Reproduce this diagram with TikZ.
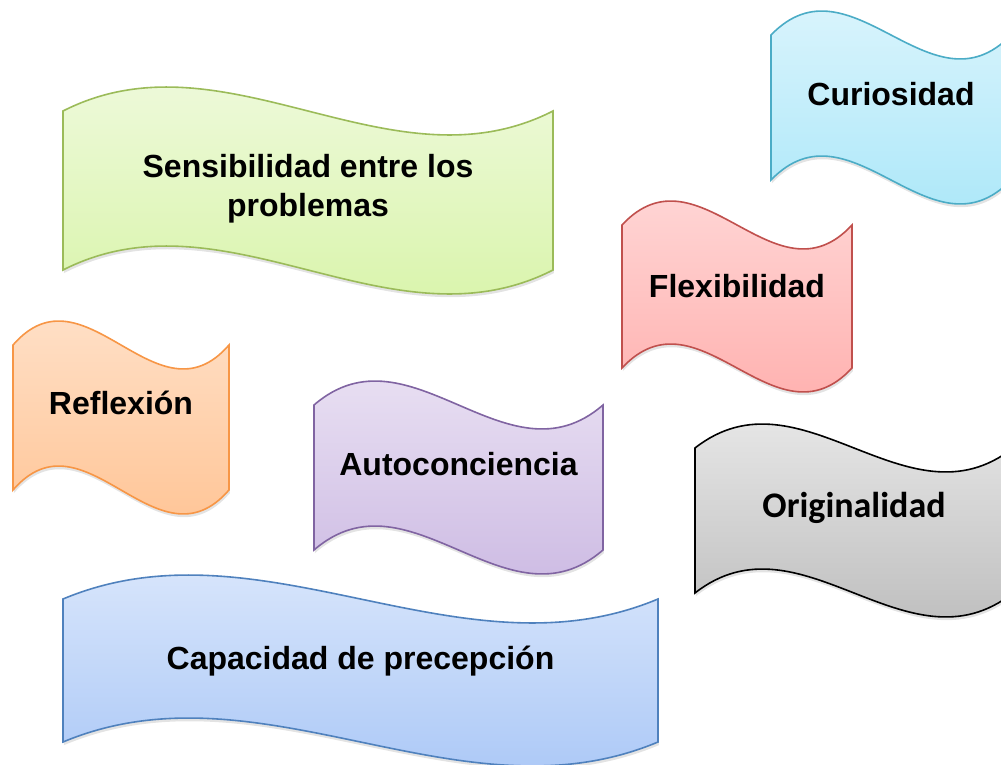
\documentclass[tikz,border=0pt]{standalone}
\usepackage{fontspec}
\setmainfont{Liberation Sans}
\newfontfamily\calibrifont{Carlito}
\usetikzlibrary{shadows}

\definecolor{grnline}{HTML}{9BBB59}
\definecolor{grntop}{HTML}{F2FBE4}
\definecolor{grnbot}{HTML}{D5F3A2}
\definecolor{cynline}{HTML}{4BACC6}
\definecolor{cyntop}{HTML}{E4F7FD}
\definecolor{cynbot}{HTML}{A3E5F8}
\definecolor{redline}{HTML}{C0504D}
\definecolor{redtop}{HTML}{FFDEDE}
\definecolor{redbot}{HTML}{FFA9A7}
\definecolor{orgline}{HTML}{F79646}
\definecolor{orgtop}{HTML}{FFE6D2}
\definecolor{orgbot}{HTML}{FFBF8C}
\definecolor{purline}{HTML}{8064A2}
\definecolor{purtop}{HTML}{EFE8F6}
\definecolor{purbot}{HTML}{C7B3E0}
\definecolor{gryline}{HTML}{000000}
\definecolor{grytop}{HTML}{F0F0F0}
\definecolor{grybot}{HTML}{B5B5B5}
\definecolor{bluline}{HTML}{4F81BD}
\definecolor{blutop}{HTML}{E2ECFC}
\definecolor{blubot}{HTML}{A2C2F6}

\begin{document}
\begin{tikzpicture}[x=0.75pt,y=-0.75pt,
	wave/.style={line width=1.2pt, drop shadow={opacity=0.22, shadow xshift=0.6pt, shadow yshift=-2.4pt}},
	word/.style={font=\bfseries\fontsize{24}{29}\selectfont, align=center, anchor=base, text=black}]
			\useasboundingbox (0,0) rectangle (1001,765);
			\clip (0,0) rectangle (1001,765);

			% green banner
			\draw [wave, draw=grnline, top color=grntop, bottom color=grnbot]
				(63,111) .. controls (226,28) and (390,194) .. (553,111) -- (553,270)
				.. controls (390,353) and (226,187) .. (63,270) -- cycle;

			% cyan banner (runs off the right side)
			\draw [wave, draw=cynline, top color=cyntop, bottom color=cynbot]
				(771,35) .. controls (851,-48) and (931,118) .. (1011,35) -- (1011,180)
				.. controls (931,263) and (851,97) .. (771,180) -- cycle;

			% red banner
			\draw [wave, draw=redline, top color=redtop, bottom color=redbot]
				(622,225) .. controls (699,142) and (775,308) .. (852,225) -- (852,368)
				.. controls (775,451) and (699,285) .. (622,368) -- cycle;

			% orange banner
			\draw [wave, draw=orgline, top color=orgtop, bottom color=orgbot]
				(13,345) .. controls (85,262) and (157,428) .. (229,345) -- (229,490)
				.. controls (157,573) and (85,407) .. (13,490) -- cycle;

			% purple banner
			\draw [wave, draw=purline, top color=purtop, bottom color=purbot]
				(314,405) .. controls (410,322) and (507,488) .. (603,405) -- (603,550)
				.. controls (507,633) and (410,467) .. (314,550) -- cycle;

			% gray banner (runs off the right side)
			\draw [wave, draw=gryline, top color=grytop, bottom color=grybot]
				(695,448) .. controls (801,365) and (907,531) .. (1013,448) -- (1013,593)
				.. controls (907,676) and (801,510) .. (695,593) -- cycle;

			% blue banner
			\draw [wave, draw=bluline, top color=blutop, bottom color=blubot]
				(63,599) .. controls (261,516) and (460,682) .. (658,599) -- (658,742)
				.. controls (460,825) and (261,659) .. (63,742) -- cycle;

			% banner labels
			\node[word, anchor=center] (sensib) at (308,189) {Sensibilidad entre los\\problemas};
			\node[word] (curios) at (891,105) {Curiosidad};
			\node[word] (flexib) at (737,297) {Flexibilidad};
			\node[word] (reflex) at (121,414) {Reflexión};
			\node[word] (autoco) at (458.5,475) {Autoconciencia};
			\node[word, font=\calibrifont\bfseries\fontsize{27}{32}\selectfont] (origin) at (854,517) {Originalidad};
			\node[word] (capaci) at (360.5,669) {Capacidad de precepción};

		\end{tikzpicture}
\end{document}
